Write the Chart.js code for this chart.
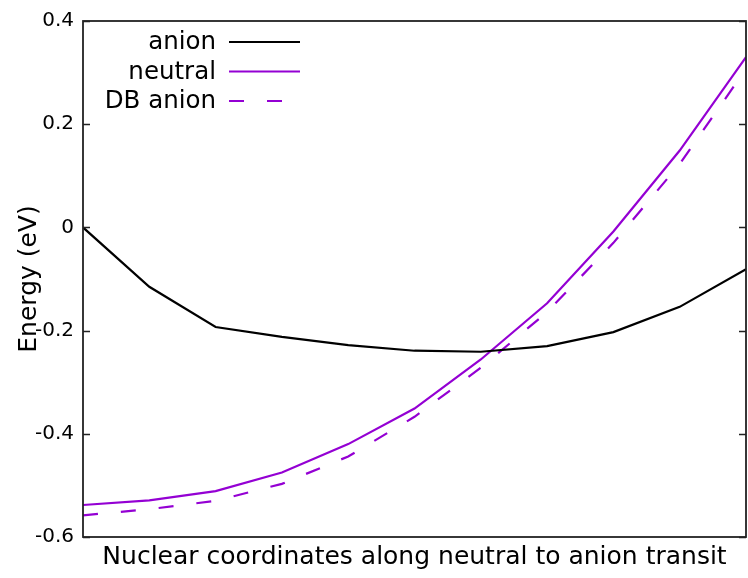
<!DOCTYPE html>
<html lang="en">

<head>
    <meta charset="UTF-8">
    <title>Energy along transit</title>
    <script src="https://cdn.jsdelivr.net/npm/chart.js"></script>
    <style>
        html, body {
            margin: 0;
            padding: 0;
            background: #fff;
        }
    </style>
</head>

<body>
    <canvas id="graficoEnergia" width="748" height="578"></canvas>

    <script>
        // coordenada a lo largo del transito (0..10)
        const coordenadas = [0, 1, 2, 3, 4, 5, 6, 7, 8, 9, 10];
        const anion = [0.0, -0.115, -0.193, -0.212, -0.228, -0.239, -0.241, -0.230, -0.203, -0.154, -0.081];
        const neutral = [-0.538, -0.529, -0.511, -0.475, -0.420, -0.351, -0.256, -0.147, -0.008, 0.149, 0.330];
        const dbAnion = [-0.558, -0.546, -0.530, -0.497, -0.444, -0.367, -0.272, -0.164, -0.030, 0.123, 0.307];
        const etiquetas = ['anion', 'neutral', 'DB anion'];
        const ticksY = [-0.6, -0.4, -0.2, 0, 0.2, 0.4];

        const morado = '#9400d3';
        const fuente = 'DejaVu Sans';

        const puntos = arr => arr.map((y, i) => ({ x: coordenadas[i], y: y }));

        // marco y marcas hacia dentro (estilo gnuplot)
        const marco = {
            id: 'marco',
            afterDraw(chart) {
                const { ctx, chartArea: a, scales } = chart;
                ctx.save();
                ctx.strokeStyle = '#222';
                ctx.lineWidth = 1.8;
                ctx.strokeRect(a.left, a.top, a.right - a.left, a.bottom - a.top);
                ctx.lineWidth = 1.5;
                ticksY.forEach(v => {
                    const y = Math.round(scales.y.getPixelForValue(v)) + 0.5;
                    ctx.beginPath();
                    ctx.moveTo(a.left, y);
                    ctx.lineTo(a.left + 7, y);
                    ctx.moveTo(a.right, y);
                    ctx.lineTo(a.right - 7, y);
                    ctx.stroke();
                });
                ctx.restore();
            }
        };

        // leyenda: texto alineado a la derecha y muestra de linea
        const leyenda = {
            id: 'leyenda',
            afterDraw(chart) {
                const { ctx } = chart;
                ctx.save();
                ctx.font = '24.5px "' + fuente + '"';
                ctx.textAlign = 'right';
                ctx.textBaseline = 'middle';
                chart.data.datasets.forEach((ds, i) => {
                    const y = 42 + i * 29.5;
                    ctx.fillStyle = '#000';
                    ctx.fillText(ds.label, 216, y + 1);
                    ctx.strokeStyle = ds.borderColor;
                    ctx.lineWidth = ds.borderWidth;
                    ctx.setLineDash(ds.borderDash || []);
                    ctx.beginPath();
                    ctx.moveTo(229, y);
                    ctx.lineTo(300, y);
                    ctx.stroke();
                });
                ctx.restore();
            }
        };

        new Chart(document.getElementById('graficoEnergia'), {
            type: 'line',
            data: {
                datasets: [
                    { label: etiquetas[0], data: puntos(anion), borderColor: '#000', borderWidth: 2.2 },
                    { label: etiquetas[1], data: puntos(neutral), borderColor: morado, borderWidth: 2.2 },
                    { label: etiquetas[2], data: puntos(dbAnion), borderColor: morado, borderWidth: 2.2, borderDash: [15, 23] }
                ]
            },
            options: {
                responsive: false,
                animation: false,
                layout: { padding: { top: 17, right: 2, left: 0, bottom: 0 } },
                elements: { point: { radius: 0 }, line: { tension: 0 } },
                plugins: { legend: { display: false }, tooltip: { enabled: false } },
                scales: {
                    x: {
                        type: 'linear',
                        min: 0,
                        max: 10,
                        grid: { display: false },
                        border: { display: false },
                        ticks: { display: false },
                        title: {
                            display: true,
                            text: 'Nuclear coordinates along neutral to anion transit',
                            color: '#000',
                            font: { family: fuente, size: 25 },
                            padding: { top: 0, bottom: 6 }
                        },
                        afterFit: s => { s.height = 41; }
                    },
                    y: {
                        min: -0.6,
                        max: 0.4,
                        grid: { display: false, drawTicks: false },
                        border: { display: false },
                        afterBuildTicks: s => { s.ticks = ticksY.map(v => ({ value: v })); },
                        ticks: {
                            color: '#000',
                            padding: 9,
                            font: { family: fuente, size: 20 },
                            callback: v => String(Math.round(v * 10) / 10)
                        },
                        title: {
                            display: true,
                            text: 'Energy (eV)',
                            color: '#000',
                            font: { family: fuente, size: 25 },
                            padding: { top: 14, bottom: 0 }
                        },
                        afterFit: s => { s.width = 83; }
                    }
                }
            },
            plugins: [marco, leyenda]
        });
    </script>
</body>

</html>
